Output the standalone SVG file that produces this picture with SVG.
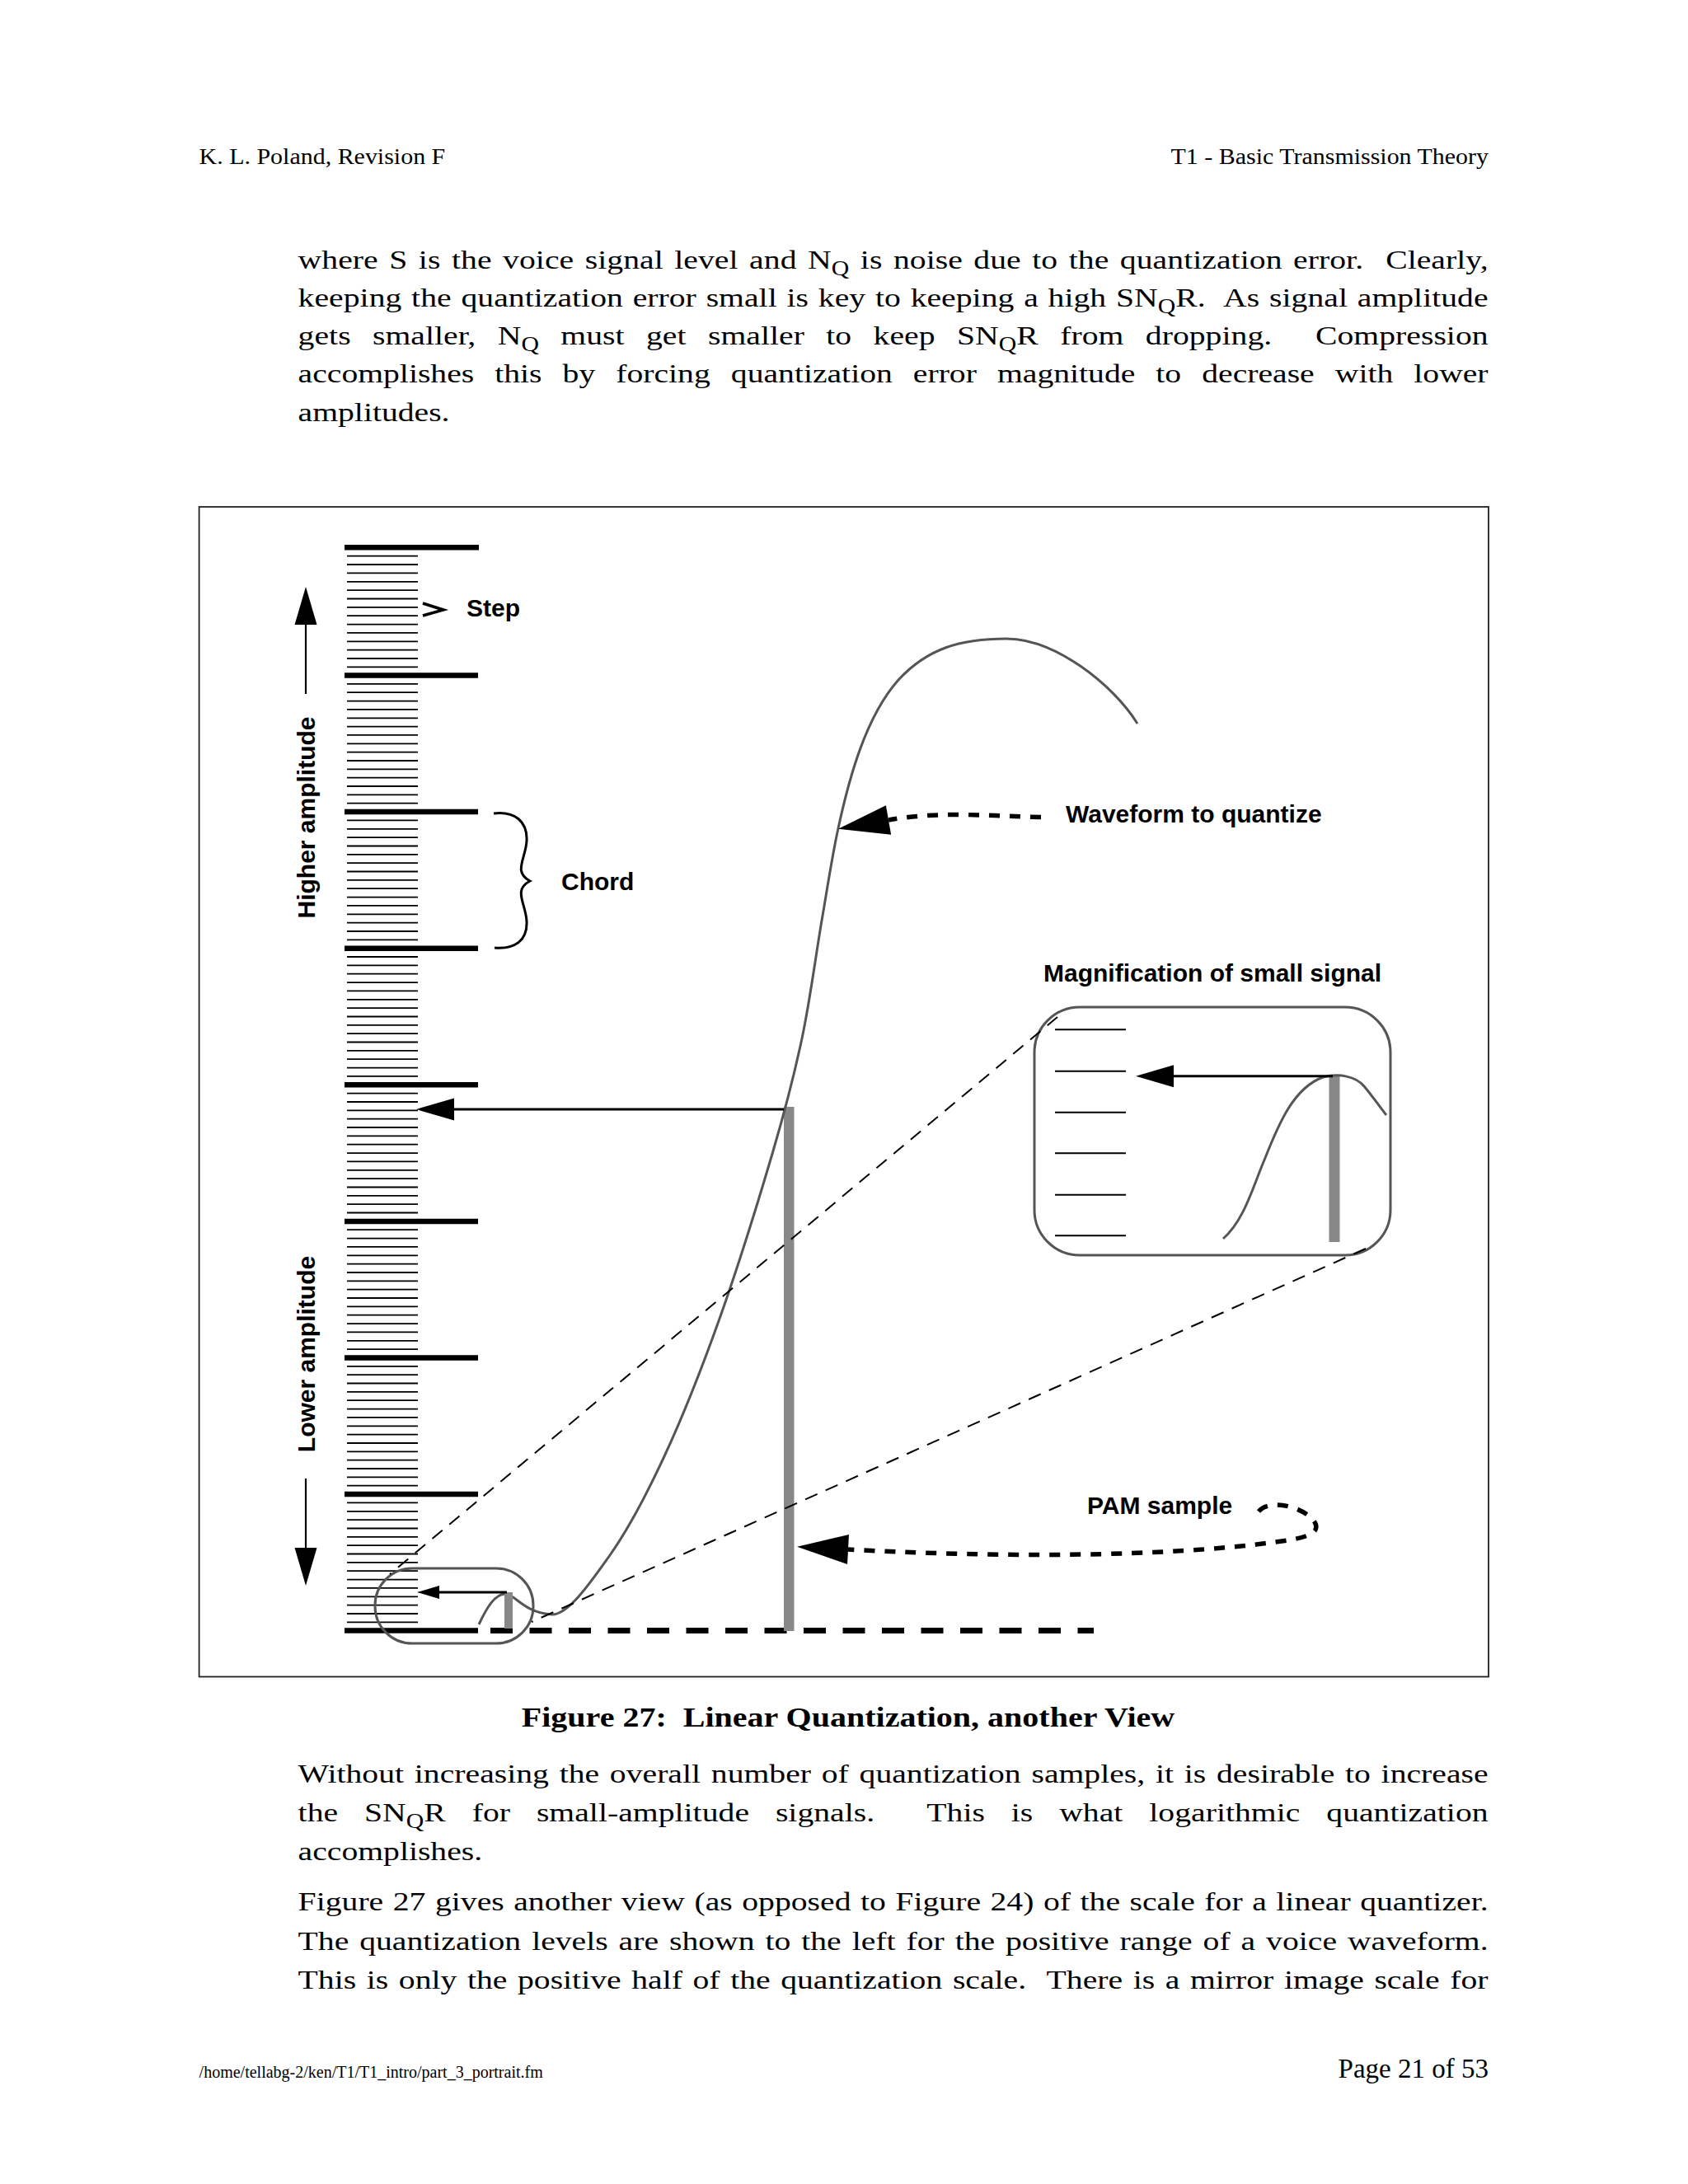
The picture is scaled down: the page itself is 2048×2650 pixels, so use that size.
<svg xmlns="http://www.w3.org/2000/svg" width="2048" height="2650" viewBox="0 0 2048 2650">
<style>
.serif{font-family:'Liberation Serif','Times New Roman',serif;fill:#000}
.body{font-size:32.5px}
.sub{font-size:24.4px}
.cap{font-size:32.8px;font-weight:bold}
.sans{font-family:'Liberation Sans',Arial,Helvetica,sans-serif;font-weight:bold;font-size:30px;fill:#000}
.thick{stroke:#000;stroke-width:6.5;fill:none}
.thin{stroke:#000;stroke-width:1.8;fill:none}
.wave{stroke:#555;stroke-width:3;fill:none}
.box{stroke:#555;stroke-width:3;fill:none}
.bar{fill:#888}
.arrow{stroke:#000;stroke-width:3;fill:none}
.stem{stroke:#000;stroke-width:2.2;fill:none}
.guide{stroke:#000;stroke-width:2;stroke-dasharray:16 11;fill:none}
.dots{stroke:#000;stroke-width:5.5;stroke-dasharray:13 12;fill:none}
.base{stroke:#000;stroke-width:7;stroke-dasharray:27 20.5;fill:none}
.frame{stroke:#222;stroke-width:1.8;fill:none}
.ah{fill:#000;stroke:none}
</style>
<defs>
<marker id="ahBig" markerUnits="userSpaceOnUse" markerWidth="64" markerHeight="38" refX="0" refY="18" orient="auto" overflow="visible"><path class="ah" d="M0,0 L62,18 L0,36 Z"/></marker>
<marker id="ahMid" markerUnits="userSpaceOnUse" markerWidth="48" markerHeight="28" refX="0" refY="13.5" orient="auto" overflow="visible"><path class="ah" d="M0,0 L46,13.5 L0,27 Z"/></marker>
<marker id="ahSmall" markerUnits="userSpaceOnUse" markerWidth="28" markerHeight="17" refX="0" refY="8" orient="auto" overflow="visible"><path class="ah" d="M0,0 L27,8 L0,16 Z"/></marker>
</defs>
<rect width="2048" height="2650" fill="#fff"/>

<g id="header" class="serif" style="font-size:28px">
<text transform="matrix(1.07,0,0,1,241.6,0)" x="0" y="199">K. L. Poland, Revision F</text>
<text transform="matrix(1.07,0,0,1,1806,0)" x="0" y="199" text-anchor="end">T1 - Basic Transmission Theory</text>
</g>

<g id="body-top" class="serif body">
<text xml:space="preserve" transform="matrix(1.22,0,0,1,361.6,0)" x="0" y="326" textLength="1183.6" lengthAdjust="spacing" style="word-spacing:2.9px">where S is the voice signal level and N<tspan class="sub" dy="8">Q</tspan><tspan dy="-8"> is noise due to the quantization error.  Clearly,</tspan></text>
<text xml:space="preserve" transform="matrix(1.22,0,0,1,361.6,0)" x="0" y="372" textLength="1183.6" lengthAdjust="spacing" style="word-spacing:1.5px">keeping the quantization error small is key to keeping a high SN<tspan class="sub" dy="8">Q</tspan><tspan dy="-8">R.  As signal amplitude</tspan></text>
<text xml:space="preserve" transform="matrix(1.22,0,0,1,361.6,0)" x="0" y="418" textLength="1183.6" lengthAdjust="spacing" style="word-spacing:13.5px">gets smaller, N<tspan class="sub" dy="8">Q</tspan><tspan dy="-8"> must get smaller to keep SN</tspan><tspan class="sub" dy="8">Q</tspan><tspan dy="-8">R from dropping.  Compression</tspan></text>
<text xml:space="preserve" transform="matrix(1.22,0,0,1,361.6,0)" x="0" y="464.3" textLength="1183.6" lengthAdjust="spacing" style="word-spacing:12.4px">accomplishes this by forcing quantization error magnitude to decrease with lower</text>
<text transform="matrix(1.22,0,0,1,361.6,0)" x="0" y="511">amplitudes.</text>
</g>

<rect id="figure-frame" class="frame" x="241.6" y="615" width="1564.4" height="1419.5"/>

<g id="ruler">
<path class="thin" d="M421,674.7H507M421,685H507M421,695.4H507M421,705.8H507M421,716.1H507M421,726.5H507M421,736.9H507M421,747.2H507M421,757.6H507M421,767.9H507M421,778.3H507M421,788.7H507M421,799H507M421,809.4H507
M421,829.9H507M421,840.2H507M421,850.6H507M421,860.9H507M421,871.3H507M421,881.6H507M421,891.9H507M421,902.3H507M421,912.6H507M421,923H507M421,933.3H507M421,943.7H507M421,954H507M421,964.4H507M421,974.7H507
M421,995.4H507M421,1005.8H507M421,1016.1H507M421,1026.5H507M421,1036.8H507M421,1047.2H507M421,1057.5H507M421,1067.9H507M421,1078.2H507M421,1088.6H507M421,1098.9H507M421,1109.3H507M421,1119.6H507M421,1130H507M421,1140.3H507
M421,1161H507M421,1171.4H507M421,1181.7H507M421,1192.1H507M421,1202.4H507M421,1212.8H507M421,1223.1H507M421,1233.5H507M421,1243.8H507M421,1254.2H507M421,1264.5H507M421,1274.9H507M421,1285.2H507M421,1295.6H507M421,1305.9H507
M421,1326.6H507M421,1337H507M421,1347.3H507M421,1357.7H507M421,1368H507M421,1378.4H507M421,1388.7H507M421,1399.1H507M421,1409.4H507M421,1419.8H507M421,1430.1H507M421,1440.5H507M421,1450.8H507M421,1461.2H507M421,1471.5H507
M421,1492.2H507M421,1502.6H507M421,1512.9H507M421,1523.3H507M421,1533.6H507M421,1544H507M421,1554.3H507M421,1564.7H507M421,1575H507M421,1585.4H507M421,1595.7H507M421,1606.1H507M421,1616.4H507M421,1626.8H507M421,1637.1H507
M421,1657.8H507M421,1668.2H507M421,1678.5H507M421,1688.9H507M421,1699.2H507M421,1709.6H507M421,1719.9H507M421,1730.3H507M421,1740.6H507M421,1751H507M421,1761.3H507M421,1771.7H507M421,1782H507M421,1792.4H507M421,1802.7H507
M421,1823.4H507M421,1833.8H507M421,1844.1H507M421,1854.5H507M421,1864.8H507M421,1875.2H507M421,1885.5H507M421,1895.9H507M421,1906.2H507M421,1916.6H507M421,1926.9H507M421,1937.3H507M421,1947.6H507M421,1958H507M421,1968.3H507"/>
<path class="thick" d="M418,664.3H581M418,819.5H580M418,985.1H580M418,1150.7H580M418,1316.3H580M418,1481.9H580M418,1647.5H580M418,1813.1H580M418,1978.5H580"/>
</g>

<g id="amplitude-labels">
<text class="sans" transform="translate(382,992) rotate(-90)" text-anchor="middle">Higher amplitude</text>
<text class="sans" transform="translate(382,1643) rotate(-90)" text-anchor="middle">Lower amplitude</text>
</g>

<g id="step-label">
<polyline points="513,732 538,740 513,747" style="stroke:#000;stroke-width:3.5;fill:none"/>
<text class="sans" x="566" y="748">Step</text>
</g>

<g id="chord-label">
<path d="M599,987 C625,984 640,997 639,1020 C638,1042 622,1058 643,1069 C622,1080 638,1096 639,1118 C640,1141 625,1152 600,1150" style="stroke:#000;stroke-width:3;fill:none"/>
<text class="sans" x="681" y="1080">Chord</text>
</g>

<g id="baseline-axis">
<line class="base" x1="595" y1="1978.5" x2="1327" y2="1978.5"/>
</g>

<g id="pam-sample-bar">
<rect class="bar" x="951" y="1343" width="12.5" height="636"/>
</g>

<g id="waveform">
<path class="wave" d="M581,1971 C590,1952 600,1934 613,1934 C625,1934 635,1957 670,1959 C690,1959 717.3,1919 740,1887 C762.7,1855 783.8,1814.8 806,1767 C828.2,1719.2 851.2,1661.2 873,1600 C894.8,1538.8 920.3,1456.7 937,1400 C953.7,1343.3 963,1307.2 973,1260 C983,1212.8 989.7,1159.5 997,1117 C1004.3,1074.5 1010,1036.5 1017,1005 C1030,945 1050,870 1090,825 C1125,787 1165,775 1221,775 C1280,775 1350,830 1380,878"/>
<text class="sans" x="1293" y="998">Waveform to quantize</text>
</g>

<g id="small-signal">
<rect class="box" x="455" y="1903" width="192" height="91" rx="45" ry="45"/>
<rect class="bar" x="612" y="1932" width="10" height="44"/>
</g>

<g id="magnification">
<text class="sans" x="1266" y="1191">Magnification of small signal</text>
<rect class="box" x="1255" y="1222" width="432" height="301" rx="55" ry="55"/>
<path style="stroke:#000;stroke-width:2;fill:none" d="M1280,1249.3H1366M1280,1299.7H1366M1280,1349.7H1366M1280,1399.3H1366M1280,1449.7H1366M1280,1499.3H1366"/>
<rect class="bar" x="1612.5" y="1305" width="13" height="202"/>
<path class="wave" d="M1484,1503 C1510,1480 1520,1440 1535,1405 C1552,1362 1570,1320 1605,1307 C1625,1302 1645,1306 1655,1318 C1665,1330 1672,1340 1682,1353"/>
</g>

<g id="pam-sample">
<text class="sans" x="1319" y="1837">PAM sample</text>
</g>

<g id="connectors">
<line class="stem" x1="371" y1="842" x2="371" y2="758" marker-end="url(#ahMid)"/>
<line class="stem" x1="371" y1="1794" x2="371" y2="1878" marker-end="url(#ahMid)"/>
<line class="arrow" x1="951" y1="1346" x2="551" y2="1346" marker-end="url(#ahMid)"/>
<line class="arrow" x1="1617" y1="1305.7" x2="1424" y2="1305.7" marker-end="url(#ahMid)"/>
<line class="arrow" x1="615" y1="1932" x2="533" y2="1932" marker-end="url(#ahSmall)"/>
<path class="dots" d="M1263,991.5 C1200,990 1140,984 1078,995" marker-end="url(#ahBig)"/>
<path class="dots" d="M1527,1834 C1540,1818 1580,1828 1594,1845 C1603,1858 1590,1864 1568,1868 C1450,1887 1250,1892 1029,1880" marker-end="url(#ahBig)"/>
<line class="guide" x1="1283" y1="1234" x2="473" y2="1910"/>
<line class="guide" x1="1657" y1="1515" x2="645" y2="1968"/>
</g>

<g id="caption">
<text xml:space="preserve" class="serif cap" transform="matrix(1.22,0,0,1,1029,0)" x="0" y="2095" text-anchor="middle">Figure 27:  Linear Quantization, another View</text>
</g>

<g id="body-bottom" class="serif body">
<text xml:space="preserve" transform="matrix(1.22,0,0,1,361.6,0)" x="0" y="2163" textLength="1183.6" lengthAdjust="spacing" style="word-spacing:2.3px">Without increasing the overall number of quantization samples, it is desirable to increase</text>
<text xml:space="preserve" transform="matrix(1.22,0,0,1,361.6,0)" x="0" y="2210" textLength="1183.6" lengthAdjust="spacing" style="word-spacing:18px">the SN<tspan class="sub" dy="8">Q</tspan><tspan dy="-8">R for small-amplitude signals.  This is what logarithmic quantization</tspan></text>
<text transform="matrix(1.22,0,0,1,361.6,0)" x="0" y="2257">accomplishes.</text>
<text xml:space="preserve" transform="matrix(1.22,0,0,1,361.6,0)" x="0" y="2318" textLength="1183.6" lengthAdjust="spacing" style="word-spacing:1.3px">Figure 27 gives another view (as opposed to Figure 24) of the scale for a linear quantizer.</text>
<text xml:space="preserve" transform="matrix(1.22,0,0,1,361.6,0)" x="0" y="2366" textLength="1183.6" lengthAdjust="spacing" style="word-spacing:2.5px">The quantization levels are shown to the left for the positive range of a voice waveform.</text>
<text xml:space="preserve" transform="matrix(1.22,0,0,1,361.6,0)" x="0" y="2413" textLength="1183.6" lengthAdjust="spacing" style="word-spacing:2.2px">This is only the positive half of the quantization scale.  There is a mirror image scale for</text>
</g>

<g id="footer" class="serif">
<text x="241.6" y="2521" style="font-size:20px">/home/tellabg-2/ken/T1/T1_intro/part_3_portrait.fm</text>
<text x="1806" y="2521" text-anchor="end" style="font-size:33px">Page 21 of 53</text>
</g>
</svg>
